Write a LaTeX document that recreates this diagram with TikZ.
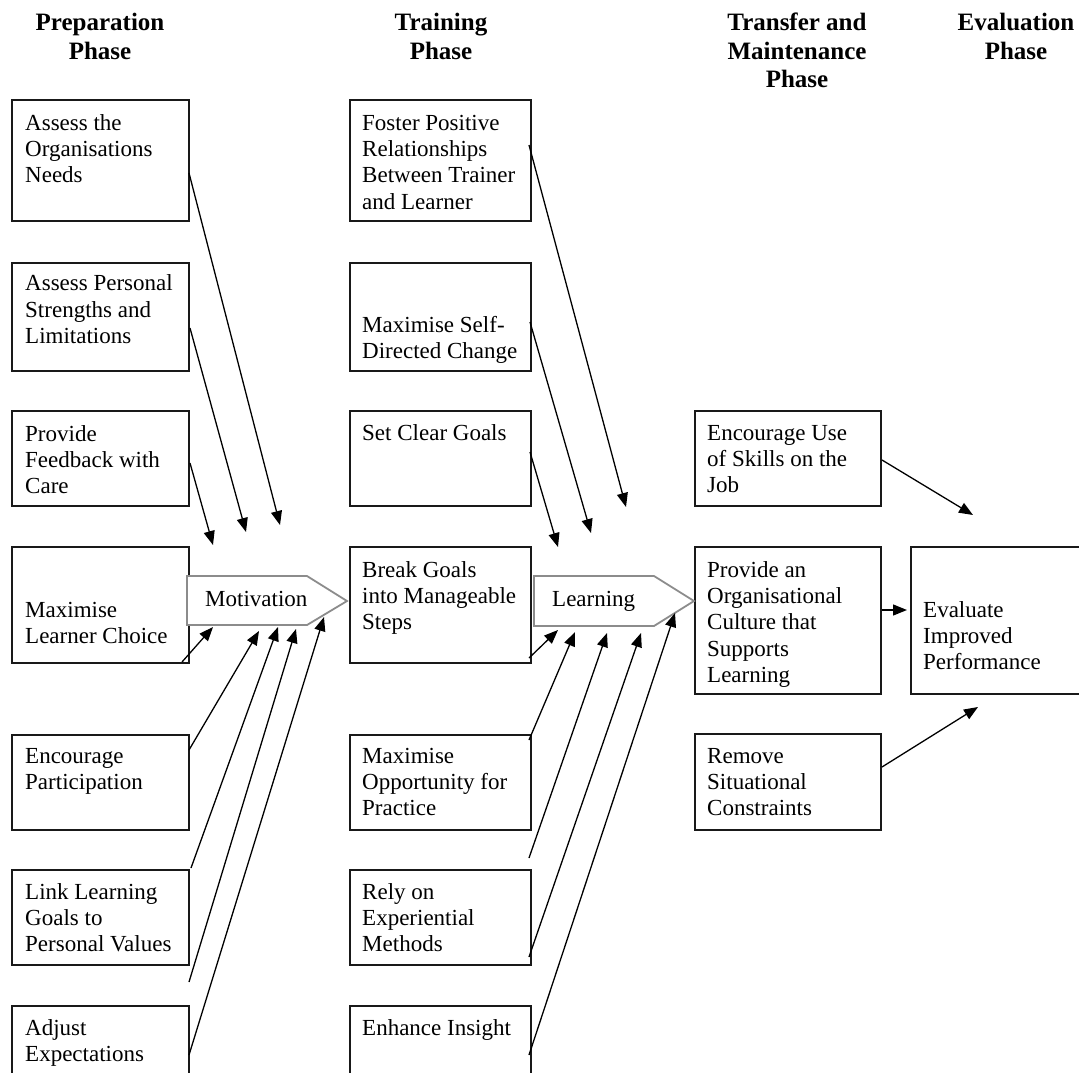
\documentclass[tikz,border=0pt]{standalone}
\usepackage{fontspec}
\setmainfont{Liberation Serif}
\usetikzlibrary{arrows.meta,calc,fit}
\definecolor{frame}{RGB}{25,25,25}
\definecolor{shapegray}{RGB}{140,140,140}
\newcommand\bt[1]{\begin{tabular}[t]{@{}l@{}}#1\end{tabular}}
\newcommand\hdtab[1]{\begin{tabular}[t]{@{}c@{}}#1\end{tabular}}
\newcommand\mkbox[5]{\path (#2,#3) coordinate (#1-nw) (#4,#5) coordinate (#1-se); \node[box, fit=(#1-nw)(#1-se)] (#1) {};}
\begin{document}
\begin{tikzpicture}[x=1pt,y=-1pt,
  box/.style={draw=frame, line width=1.6pt, inner sep=0pt, outer sep=0pt},
  txt/.style={inner sep=0pt, anchor=base west, font=\fontsize{23}{26.2}\selectfont},
  head/.style={inner sep=0pt, anchor=base, font=\bfseries\fontsize{25}{28.5}\selectfont},
  conn/.style={draw=black, line width=1.3pt, -{Triangle[length=14pt,width=11pt]}},
  phase/.style={draw=shapegray, line width=1.8pt, fill=white, line join=miter}]
\useasboundingbox (0,0) rectangle (1079,1073);
% headings
\node[head] (hprep) at (100,31) {\hdtab{Preparation\\Phase}};
\node[head] (htrain) at (441,31) {\hdtab{Training\\Phase}};
\node[head] (htrans) at (797,31) {\hdtab{Transfer and\\Maintenance\\Phase}};
\node[head] (heval) at (1016,31) {\hdtab{Evaluation\\Phase}};
% left column boxes
\mkbox{org}{12}{100}{189}{221}
\mkbox{pers}{12}{263}{189}{371}
\mkbox{feed}{12}{411}{189}{506}
\mkbox{choice}{12}{547}{189}{663}
\mkbox{part}{12}{735}{189}{830}
\mkbox{link}{12}{870}{189}{965}
\mkbox{adj}{12}{1006}{189}{1090}
% middle column boxes
\mkbox{foster}{350}{100}{531}{221}
\mkbox{self}{350}{263}{531}{371}
\mkbox{goals}{350}{411}{531}{506}
\mkbox{break}{350}{547}{531}{663}
\mkbox{opp}{350}{735}{531}{830}
\mkbox{rely}{350}{870}{531}{965}
\mkbox{insight}{350}{1006}{531}{1090}
% third column boxes
\mkbox{use}{695}{411}{881}{506}
\mkbox{culture}{695}{547}{881}{694}
\mkbox{remove}{695}{734}{881}{830}
\mkbox{evalb}{911}{547}{1090}{694}
% texts
\node[txt] (torg) at (25,130.5) {\bt{Assess the\\Organisations\\Needs}};
\node[txt] (tpers) at (25,290.8) {\bt{Assess Personal\\Strengths and\\Limitations}};
\node[txt] (tfeed) at (25,441) {\bt{Provide\\Feedback with\\Care}};
\node[txt] (tchoice) at (25,617.5) {\bt{Maximise\\Learner Choice}};
\node[txt] (tpart) at (25,763.5) {\bt{Encourage\\Participation}};
\node[txt] (tlink) at (25,899.5) {\bt{Link Learning\\Goals to\\Personal Values}};
\node[txt] (tadj) at (25,1035.5) {\bt{Adjust\\Expectations}};
\node[txt] (tfoster) at (362,130.5) {\bt{Foster Positive\\Relationships\\Between Trainer\\and Learner}};
\node[txt] (tself) at (362,332.5) {\bt{Maximise Self-\\Directed Change}};
\node[txt] (tgoals) at (362,440.5) {\bt{Set Clear Goals}};
\node[txt] (tbreak) at (362,577) {\bt{Break Goals\\into Manageable\\Steps}};
\node[txt] (topp) at (362,763.5) {\bt{Maximise\\Opportunity for\\Practice}};
\node[txt] (trely) at (362,899.5) {\bt{Rely on\\Experiential\\Methods}};
\node[txt] (tinsight) at (362,1035.5) {\bt{Enhance Insight}};
\node[txt] (tuse) at (707,440.5) {\bt{Encourage Use\\of Skills on the\\Job}};
\node[txt] (tculture) at (707,577.5) {\bt{Provide an\\Organisational\\Culture that\\Supports\\Learning}};
\node[txt] (tremove) at (707,763.5) {\bt{Remove\\Situational\\Constraints}};
\node[txt] (teval) at (923,617.5) {\bt{Evaluate\\Improved\\Performance}};
% phase arrows
\draw[phase] (187,576) -- (307,576) -- (347,601) -- (307,625) -- (187,625) -- cycle;
\node[txt] (motiv) at (205,606) {Motivation};
\draw[phase] (534,576) -- (654,576) -- (694,601) -- (654,626) -- (534,626) -- cycle;
\node[txt] (learn) at (552,606) {Learning};
% connector endpoints
\coordinate (a1s) at (189,173);  \coordinate (a1e) at (280,525);
\coordinate (a2s) at (190,328);  \coordinate (a2e) at (246,532);
\coordinate (a3s) at (190,463);  \coordinate (a3e) at (213,545);
\coordinate (b1s) at (182,662);  \coordinate (b1e) at (213,627);
\coordinate (b2s) at (189,750);  \coordinate (b2e) at (259,631);
\coordinate (b3s) at (191,868);  \coordinate (b3e) at (278,627);
\coordinate (b4s) at (189,982);  \coordinate (b4e) at (296,629);
\coordinate (b5s) at (189,1055); \coordinate (b5e) at (324,617);
\coordinate (c1s) at (529,145);  \coordinate (c1e) at (626,507);
\coordinate (c2s) at (530,322);  \coordinate (c2e) at (591,533);
\coordinate (c3s) at (530,452);  \coordinate (c3e) at (558,547);
\coordinate (d1s) at (529,658);  \coordinate (d1e) at (558,630);
\coordinate (d2s) at (529,740);  \coordinate (d2e) at (575,632);
\coordinate (d3s) at (529,858);  \coordinate (d3e) at (607,633);
\coordinate (d4s) at (529,957);  \coordinate (d4e) at (641,633);
\coordinate (d5s) at (529,1055); \coordinate (d5e) at (675,613);
\coordinate (e1s) at (882,460);  \coordinate (e1e) at (973,515);
\coordinate (e2s) at (882,610);  \coordinate (e2e) at (907,610);
\coordinate (e3s) at (882,767);  \coordinate (e3e) at (978,707);
\foreach \c in {a1,a2,a3,b1,b2,b3,b4,b5,c1,c2,c3,d1,d2,d3,d4,d5,e1,e2,e3}
  \draw[conn] (\c s) -- (\c e);
\end{tikzpicture}
\end{document}
